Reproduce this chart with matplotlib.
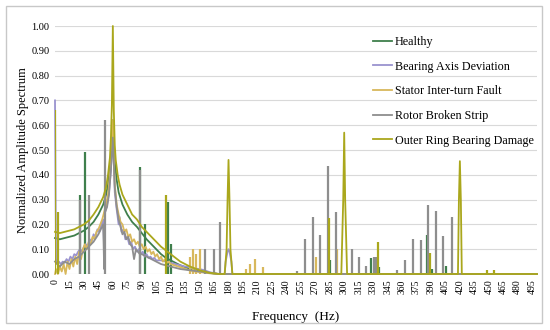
import matplotlib.pyplot as plt
from matplotlib.patches import Rectangle

plt.rcParams['font.family'] = ['Liberation Serif', 'DejaVu Serif']

# ---- data (frequency in Hz, normalized amplitude) ----
# Healthy
healthy_f = [0, 5, 10, 15, 20, 25, 30, 35, 40, 45, 50, 53, 55, 57, 58, 59, 60, 61, 62, 64, 66, 70,
             75, 80, 85, 90, 95, 100, 105, 110, 115, 120, 125, 130, 140, 150, 160, 170, 500]
healthy_a = [0.145, 0.14, 0.145, 0.15, 0.155, 0.165, 0.175, 0.19, 0.21, 0.24, 0.28, 0.32, 0.36, 0.43,
             0.48, 0.55, 0.62, 0.52, 0.45, 0.38, 0.33, 0.28, 0.24, 0.21, 0.19, 0.165, 0.14, 0.12, 0.10,
             0.08, 0.065, 0.055, 0.045, 0.035, 0.02, 0.01, 0.004, 0.0, 0.0]
healthy_spk_f = [26, 31, 88, 93.5, 117, 120.5, 285.5, 327.5, 336, 385.6, 391.5, 405.7]
healthy_spk_a = [0.32, 0.49, 0.43, 0.20, 0.29, 0.12, 0.058, 0.065, 0.03, 0.159, 0.02, 0.034]

# Bearing Axis Deviation
bearing_f = [0, 1, 2, 4, 6, 8, 10, 12, 14, 16, 18, 20, 22, 24, 26, 28, 30, 32, 34, 36, 38, 40, 42, 44,
             46, 48, 50, 51, 52, 54, 56, 58, 59, 60, 61, 62, 64, 66, 67, 69, 71, 73, 75, 77, 79, 81,
             83, 85, 87, 89, 91, 93, 95, 97, 99, 101, 103, 105, 110, 115, 120, 125, 130, 135, 140,
             145, 150, 155, 160, 165, 170, 176, 177, 179, 180, 181, 183, 184, 500]
bearing_a = [0.70, 0.06, 0.04, 0.05, 0.04, 0.05, 0.045, 0.06, 0.05, 0.07, 0.06, 0.08, 0.075, 0.09,
             0.10, 0.09, 0.11, 0.12, 0.11, 0.14, 0.13, 0.16, 0.15, 0.18, 0.17, 0.20, 0.22, 0.10, 0.25,
             0.28, 0.33, 0.42, 0.50, 0.60, 0.45, 0.33, 0.26, 0.20, 0.23, 0.17, 0.18, 0.14, 0.15, 0.12,
             0.13, 0.10, 0.11, 0.09, 0.10, 0.08, 0.09, 0.07, 0.08, 0.065, 0.07, 0.06, 0.065, 0.055,
             0.055, 0.05, 0.045, 0.04, 0.035, 0.03, 0.028, 0.022, 0.02, 0.015, 0.008, 0.003, 0.0, 0.0,
             0.05, 0.09, 0.10, 0.09, 0.05, 0.0, 0.0]

# Stator Inter-turn Fault
stator_f = [0, 1, 3, 5, 7, 9, 11, 13, 15, 17, 19, 21, 23, 25, 27, 29, 31, 33, 35, 37, 39, 41, 43, 45,
            47, 49, 51, 53, 55, 57, 59, 60, 61, 62, 64, 66, 68, 70, 72, 74, 76, 78, 80, 82, 84, 86, 88,
            90, 92, 94, 96, 98, 100, 102, 104, 106, 108, 110, 112, 114, 116, 118, 120, 124, 128, 132,
            136, 140, 145, 150, 160, 170, 500]
stator_a = [0.0, 0.02, 0.0, 0.03, 0.01, 0.04, 0.0, 0.05, 0.02, 0.06, 0.03, 0.07, 0.04, 0.09, 0.06,
            0.10, 0.12, 0.10, 0.13, 0.12, 0.15, 0.14, 0.17, 0.18, 0.20, 0.22, 0.25, 0.28, 0.32, 0.40,
            0.52, 0.62, 0.48, 0.36, 0.28, 0.24, 0.21, 0.20, 0.17, 0.18, 0.15, 0.16, 0.13, 0.14, 0.12,
            0.13, 0.11, 0.12, 0.10, 0.11, 0.09, 0.10, 0.08, 0.09, 0.07, 0.08, 0.06, 0.07, 0.05, 0.06,
            0.045, 0.05, 0.04, 0.035, 0.03, 0.025, 0.02, 0.015, 0.01, 0.008, 0.003, 0.0, 0.0]
stator_spk_f = [140, 143, 146, 150, 198, 202, 207, 216, 271, 292.5]
stator_spk_a = [0.07, 0.10, 0.08, 0.10, 0.02, 0.04, 0.06, 0.03, 0.067, 0.10]

# Rotor Broken Strip
rotor_f = [0, 5, 10, 15, 20, 25, 30, 35, 40, 45, 50, 51, 52, 54, 56, 58, 60, 62, 64, 66, 68, 70, 72,
           74, 76, 78, 80, 82, 84, 86, 88, 90, 95, 100, 105, 110, 115, 120, 130, 140, 150, 160, 170, 500]
rotor_a = [0.05, 0.03, 0.05, 0.04, 0.06, 0.07, 0.09, 0.11, 0.13, 0.16, 0.20, 0.02, 0.25, 0.27, 0.32,
           0.42, 0.55, 0.35, 0.27, 0.22, 0.19, 0.16, 0.17, 0.14, 0.15, 0.12, 0.11, 0.06, 0.10, 0.09,
           0.08, 0.08, 0.07, 0.06, 0.05, 0.04, 0.035, 0.03, 0.02, 0.015, 0.01, 0.005, 0.0, 0.0]
rotor_spk_f = [26, 35, 52, 88, 156, 164.5, 171.4, 251, 259, 267.6, 275, 283.5, 291.5, 307.7, 315.7,
               323, 330.5, 333, 354.7, 363, 371.5, 379.4, 387.4, 395.6, 403, 412]
rotor_spk_a = [0.30, 0.32, 0.62, 0.42, 0.10, 0.10, 0.21, 0.013, 0.14, 0.23, 0.157, 0.434, 0.25, 0.10,
               0.069, 0.034, 0.07, 0.07, 0.015, 0.058, 0.14, 0.137, 0.28, 0.255, 0.152, 0.228]

# Outer Ring Bearing Damage
outer_f = [0, 5, 10, 15, 20, 25, 30, 35, 40, 45, 50, 53, 55, 57, 58, 59, 60, 61, 62, 63, 65, 67, 70,
           75, 80, 85, 90, 95, 100, 105, 110, 115, 120, 125, 130, 135, 140, 150, 160, 170, 176, 178,
           179, 180, 181, 182, 184, 297, 299, 300, 301, 303, 418, 419, 420, 421, 422, 500]
outer_a = [0.17, 0.165, 0.17, 0.175, 0.18, 0.19, 0.20, 0.215, 0.24, 0.27, 0.31, 0.35, 0.40, 0.47,
           0.55, 0.68, 1.00, 0.66, 0.52, 0.46, 0.40, 0.36, 0.32, 0.28, 0.24, 0.22, 0.19, 0.17, 0.15,
           0.13, 0.11, 0.095, 0.08, 0.065, 0.05, 0.04, 0.03, 0.015, 0.005, 0.0, 0.0, 0.10, 0.30,
           0.46, 0.30, 0.10, 0.0, 0.0, 0.30, 0.57, 0.30, 0.0, 0.0, 0.30, 0.455, 0.30, 0.0, 0.0]
outer_spk_f = [0, 3, 115, 284, 335, 389.5, 448, 455.5]
outer_spk_a = [0.66, 0.25, 0.32, 0.226, 0.13, 0.085, 0.017, 0.017]

names = ['Healthy', 'Bearing Axis Deviation', 'Stator Inter-turn Fault',
         'Rotor Broken Strip', 'Outer Ring Bearing Damage']
colors = ['#3f7f4c', '#9a93cf', '#d8b85c', '#8e8e8e', '#aaa71c']
xticks = list(range(0, 500, 15))
yticks = [0.0, 0.1, 0.2, 0.3, 0.4, 0.5, 0.6, 0.7, 0.8, 0.9, 1.0]

fig = plt.figure(figsize=(5.5, 3.3), dpi=100)
ax = fig.add_axes([55 / 550, 1 - 274 / 330, 482 / 550, 248 / 330])

series = [
    (healthy_f, healthy_a, healthy_spk_f, healthy_spk_a),
    (bearing_f, bearing_a, [], []),
    (stator_f, stator_a, stator_spk_f, stator_spk_a),
    (rotor_f, rotor_a, rotor_spk_f, rotor_spk_a),
    (outer_f, outer_a, outer_spk_f, outer_spk_a),
]
for (f, a, sf, sa), name, c in zip(series, names, colors):
    ax.plot(f, a, color=c, lw=1.3, label=name, clip_on=False, zorder=3)
    if sf:
        ax.vlines(sf, 0, sa, color=c, lw=1.6, zorder=3)

ax.set_xlim(0, 500)
ax.set_ylim(0, 1.0)
ax.set_xticks(xticks)
ax.set_xticklabels([str(t) for t in xticks], rotation=90, fontsize=7)
ax.set_yticks(yticks)
ax.set_yticklabels(['%.2f' % t for t in yticks], fontsize=7.5)
ax.tick_params(length=0, pad=4)
ax.grid(axis='y', color='#d9d9d9', lw=0.8, zorder=0)
for s in ax.spines.values():
    s.set_visible(False)

ax.set_xlabel('Frequency  (Hz)', fontsize=9.5, labelpad=12)
ax.set_ylabel('Normalized Amplitude Spectrum', fontsize=9)
ax.yaxis.set_label_coords(-0.054, 0.5)

leg = ax.legend(loc='upper left', bbox_to_anchor=(362 / 550, 1 - 25 / 330),
                bbox_transform=fig.transFigure, frameon=False, fontsize=8.7,
                handlelength=1.6, handletextpad=0.2, labelspacing=1.05)

fig.patches.append(Rectangle((6 / 550, 7 / 330), 536 / 550, 317 / 330, transform=fig.transFigure,
                             fill=False, edgecolor='#c8c8c8', lw=1.0))

fig.savefig('out.png', dpi=100)
